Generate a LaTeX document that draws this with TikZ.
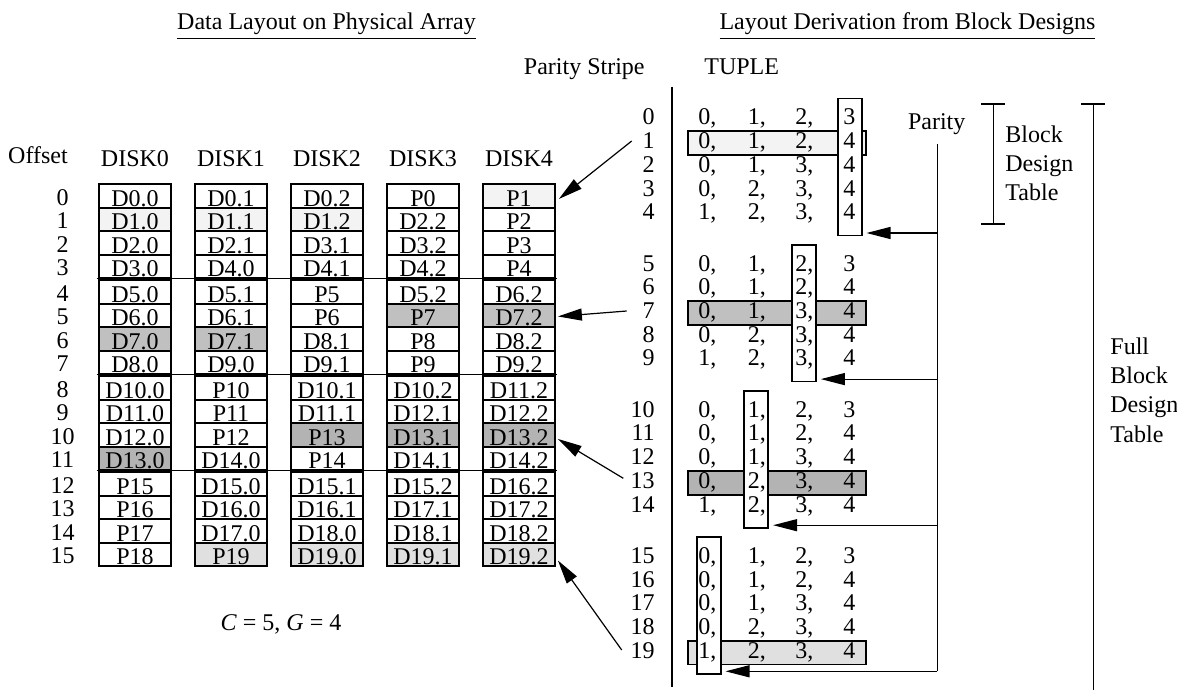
\documentclass[tikz,border=0pt]{standalone}
\usepackage{fontspec}
\setmainfont{Liberation Serif}
\usetikzlibrary{arrows.meta,calc}
\definecolor{hlA}{HTML}{F3F3F3}
\definecolor{hlB}{HTML}{C0C0C0}
\definecolor{hlC}{HTML}{B3B3B3}
\definecolor{hlD}{HTML}{E0E0E0}
\begin{document}
\begin{tikzpicture}[x=0.5pt,y=-0.5pt,
  font=\fontsize{12}{14}\selectfont,
  cell/.style={draw,line width=0.9pt,minimum width=36pt,minimum height=11.75pt,inner sep=0pt,text height=11pt,text depth=0.75pt,anchor=north},
  lbl/.style={inner sep=0pt,anchor=base},
  lblw/.style={inner sep=0pt,anchor=base west},
  lble/.style={inner sep=0pt,anchor=base east},
  hbox/.style={draw,line width=0.9pt,inner sep=0pt,anchor=north west,minimum width=88.85pt,minimum height=11.9pt},
  cbox/.style={draw,line width=0.9pt,fill=white,inner sep=0pt,anchor=north west,minimum width=12pt},
  arr/.style={line width=0.6pt,-{Triangle[length=12pt,width=6pt]}},
  ln/.style={line width=0.7pt}]
\useasboundingbox (0,0) rectangle (1177,690);
% titles
\node[lbl] (title1) at (326.5,30) {\underline{Data Layout on Physical Array}};
\node[lbl] (title2) at (907.5,30) {\underline{Layout Derivation from Block Designs}};
\node[lble] (pstripe) at (645,75) {Parity Stripe};
\node[lblw] (tuple) at (704,75) {TUPLE};
% left table
\node[lbl] (off) at (38,163.3) {Offset};
\foreach \d in {0,...,4} \node[lbl] (dk\d) at (135+96*\d,166.7) {DISK\d};
\foreach \r/\a/\fa/\b/\fb/\c/\fc/\d/\fd/\e/\fe in {
0/D0.0/white/D0.1/white/D0.2/white/P0/white/P1/hlA,
1/D1.0/hlA/D1.1/hlA/D1.2/hlA/D2.2/white/P2/white,
2/D2.0/white/D2.1/white/D3.1/white/D3.2/white/P3/white,
3/D3.0/white/D4.0/white/D4.1/white/D4.2/white/P4/white,
4/D5.0/white/D5.1/white/P5/white/D5.2/white/D6.2/white,
5/D6.0/white/D6.1/white/P6/white/P7/hlB/D7.2/hlB,
6/D7.0/hlB/D7.1/hlB/D8.1/white/P8/white/D8.2/white,
7/D8.0/white/D9.0/white/D9.1/white/P9/white/D9.2/white,
8/D10.0/white/P10/white/D10.1/white/D10.2/white/D11.2/white,
9/D11.0/white/P11/white/D11.1/white/D12.1/white/D12.2/white,
10/D12.0/white/P12/white/P13/hlC/D13.1/hlC/D13.2/hlC,
11/D13.0/hlC/D14.0/white/P14/white/D14.1/white/D14.2/white,
12/P15/white/D15.0/white/D15.1/white/D15.2/white/D16.2/white,
13/P16/white/D16.0/white/D16.1/white/D17.1/white/D17.2/white,
14/P17/white/D17.0/white/D18.0/white/D18.1/white/D18.2/white,
15/P18/white/P19/hlD/D19.0/hlD/D19.1/hlD/D19.2/hlD}
{
  \pgfmathsetmacro\yt{183.3+23.5*\r+2*floor(\r/4)}
  \node[cell,fill=\fa] (c\r-0) at (135,\yt) {\a};
  \node[cell,fill=\fb] (c\r-1) at (231,\yt) {\b};
  \node[cell,fill=\fc] (c\r-2) at (327,\yt) {\c};
  \node[cell,fill=\fd] (c\r-3) at (423,\yt) {\d};
  \node[cell,fill=\fe] (c\r-4) at (519,\yt) {\e};
  \node[lbl] (o\r) at (62.5,\yt+22) {\r};
}
\foreach \k in {1,2,3} {
  \pgfmathsetmacro\ys{183.3+96*\k-1}
  \coordinate (sl\k) at (96.7,\ys);
  \coordinate (sr\k) at (556.7,\ys);
  \draw[line width=0.6pt] (sl\k) -- (sr\k);
}
\node[lbl] (cg) at (281,630) {\textit{C} = 5, \textit{G} = 4};
% divider
\coordinate (dv1) at (672,86.7);
\coordinate (dv2) at (672,686.7);
\draw[ln] (dv1) -- (dv2);
% right table boxes
\foreach \g/\xl/\fc in {0/836.7/hlA, 1/791/hlB, 2/743.3/hlC, 3/695.7/hlD} {
  \pgfmathsetmacro\yo{116.7+146.1*\g}
  \pgfmathsetmacro\yh{\yo+23.7*(\g+1)}
  \node[hbox,fill=\fc] (rb\g) at (687.3,\yh-10) {};
  \node[cbox,minimum height=68.4pt] (cb\g) at (\xl,\yo-19) {};
  \coordinate (pa\g) at (937.3,\yo+94.8+21.5);
}
% right table text
\foreach \g in {0,...,3} {
  \foreach \i/\a/\b/\c/\d in {0/0/1/2/3,1/0/1/2/4,2/0/1/3/4,3/0/2/3/4,4/1/2/3/4} {
    \pgfmathtruncatemacro\n{5*\g+\i}
    \pgfmathsetmacro\yb{116.7+146.1*\g+23.7*\i+8.3}
    \node[lblw] (t\n-0) at (698,\yb) {\a,};
    \node[lblw] (t\n-1) at (747.5,\yb) {\b,};
    \node[lblw] (t\n-2) at (795,\yb) {\c,};
    \node[lblw] (t\n-3) at (843,\yb) {\d};
    \node[lble] (rl\n) at (655,\yb) {\n};
  }
}
% parity line
\node[lbl] (par) at (936.7,130) {Parity};
\coordinate (ptop) at (937.3,144);
\draw[ln] (ptop) -- (pa3);
\foreach \g in {0,1,2,3} \draw[arr] (pa\g) -- ($(pa\g -| cb\g.east)+(4,0)$);
% left arrows
\coordinate (s1) at (631.7,141);
\coordinate (s7) at (626.7,311);
\coordinate (s13) at (623.3,478.3);
\coordinate (s19) at (621.7,650);
\draw[arr] (s1) -- ($(c0-4.east)+(3,3)$);
\draw[arr] (s7) -- ($(c5-4.east)+(2,1)$);
\draw[arr] (s13) -- ($(c10-4.east)+(2,4)$);
\draw[arr] (s19) -- ($(c15-4.east)+(2,6)$);
% brackets
\coordinate (b1t) at (993.3,104);
\coordinate (b1b) at (993.3,224);
\draw[ln] (b1t) -- (b1b);
\draw[ln] ($(b1t)+(-12,0)$) -- ($(b1t)+(12,0)$);
\draw[ln] ($(b1b)+(-12,0)$) -- ($(b1b)+(12,0)$);
\node[lblw] (bd1) at (1005,142.3) {Block};
\node[lblw] (bd2) at (1005,171.6) {Design};
\node[lblw] (bd3) at (1005,200.9) {Table};
\coordinate (b2t) at (1093.3,104);
\coordinate (b2b) at (1093.3,690);
\draw[ln] (b2t) -- (b2b);
\draw[ln] ($(b2t)+(-12,0)$) -- ($(b2t)+(12,0)$);
\node[lblw] (fb1) at (1110,354) {Full};
\node[lblw] (fb2) at (1110,383.3) {Block};
\node[lblw] (fb3) at (1110,412.6) {Design};
\node[lblw] (fb4) at (1110,442) {Table};
\end{tikzpicture}
\end{document}
